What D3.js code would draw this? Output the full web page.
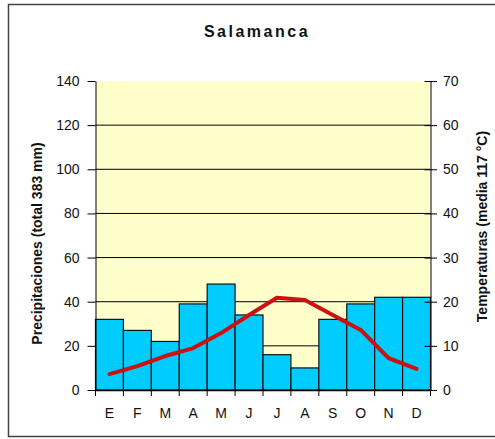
<!DOCTYPE html>
<html>
<head>
<meta charset="utf-8">
<script src="https://cdn.jsdelivr.net/npm/d3@7"></script>
<style>
  body { margin: 0; background: #fff; }
  svg { display: block; font-family: "Liberation Sans", Arial, sans-serif; }
  .axis text { font-size: 14px; fill: #111; }
  .axis path, .axis line { stroke: #000; }
</style>
</head>
<body>
<div id="chart"></div>
<script>
// climograma de Salamanca
var months = ['E', 'F', 'M', 'A', 'M', 'J', 'J', 'A', 'S', 'O', 'N', 'D'];
var precip = [32, 27, 22, 39, 48, 34, 16, 10, 32, 39, 42, 42];      // mm
var temps = [3.6, 5.4, 7.7, 9.5, 12.9, 17, 20.9, 20.4, 17, 13.6, 7.2, 4.8]; // °C
var precipTicks = [0, 20, 40, 60, 80, 100, 120, 140];
var tempTicks = [0, 10, 20, 30, 40, 50, 60, 70];
var title = 'Salamanca';
var leftLabel = 'Precipitaciones (total 383 mm)';
var rightLabel = 'Temperaturas (media 117 °C)';

var W = 495, H = 439;
var plot = { left: 95.5, right: 430.5, top: 81, bottom: 390 };

var svg = d3.select('#chart').append('svg').attr('width', W).attr('height', H);

// marco exterior
svg.append('rect').attr('x', 8.5).attr('y', 4.5).attr('width', W).attr('height', 432)
    .attr('fill', '#fff').attr('stroke', '#444').attr('stroke-width', 1.5);

// usar el indice para que los meses repetidos (M, J, A) tengan su propia banda
var idx = months.map((d, i) => i);
var x = d3.scaleBand().domain(idx).range([plot.left, plot.right]).padding(0);
var yL = d3.scaleLinear().domain([0, 140]).range([plot.bottom, plot.top]);
var yR = d3.scaleLinear().domain([0, 70]).range([plot.bottom, plot.top]);

// fondo amarillo del area de trazado
svg.append('rect')
    .attr('x', plot.left).attr('y', plot.top)
    .attr('width', plot.right - plot.left).attr('height', plot.bottom - plot.top)
    .attr('fill', '#ffffcc');

// lineas de division
svg.append('g').selectAll('line').data(precipTicks.slice(1, -1)).join('line')
    .attr('x1', plot.left).attr('x2', plot.right)
    .attr('y1', d => yL(d)).attr('y2', d => yL(d))
    .attr('stroke', '#000').attr('stroke-width', 1);

// barras de precipitacion
svg.append('g').selectAll('rect').data(precip).join('rect')
    .attr('x', (d, i) => x(i))
    .attr('y', d => yL(d))
    .attr('width', x.bandwidth())
    .attr('height', d => yL(0) - yL(d))
    .attr('fill', '#00ccff')
    .attr('stroke', '#111').attr('stroke-width', 1.2);

// eje izquierdo
var gL = svg.append('g').attr('class', 'axis').attr('transform', 'translate(' + plot.left + ',0)')
    .call(d3.axisLeft(yL).tickValues(precipTicks).tickSize(8).tickSizeOuter(0).tickPadding(8));
gL.selectAll('.tick line').attr('x2', -8);

// eje derecho
var gR = svg.append('g').attr('class', 'axis').attr('transform', 'translate(' + plot.right + ',0)')
    .call(d3.axisRight(yR).tickValues(tempTicks).tickSize(6.5).tickSizeOuter(0).tickPadding(6));
gR.selectAll('.tick line').attr('x1', -6);

// eje inferior: etiquetas centradas y marcas entre meses
var gB = svg.append('g').attr('class', 'axis').attr('transform', 'translate(0,' + plot.bottom + ')')
    .call(d3.axisBottom(x).tickSize(0).tickPadding(18).tickFormat(i => months[i]));
gB.select('.domain').attr('stroke-width', 1.5);
var bounds = idx.map(i => x(i)).concat([x.range()[1]]);
gB.selectAll('.sep').data(bounds).join('line').attr('class', 'sep')
    .attr('x1', d => d).attr('x2', d => d).attr('y1', -2).attr('y2', 6)
    .attr('stroke', '#000');

// linea de temperatura
var line = d3.line()
    .x((d, i) => x(i) + x.bandwidth() / 2)
    .y(d => yR(d));
svg.append('path').datum(temps)
    .attr('d', line)
    .attr('fill', 'none')
    .attr('stroke', '#cc1111')
    .attr('stroke-width', 4)
    .attr('stroke-linejoin', 'round')
    .attr('stroke-linecap', 'round');

// titulos
svg.append('text').text(title)
    .attr('x', 257).attr('y', 36.5)
    .attr('text-anchor', 'middle')
    .attr('font-size', 16).attr('font-weight', 'bold')
    .attr('letter-spacing', 2.5).attr('fill', '#111');

svg.append('text').text(leftLabel)
    .attr('transform', 'translate(41.5,243.5) rotate(-90)')
    .attr('text-anchor', 'middle')
    .attr('font-size', 14).attr('font-weight', 'bold').attr('fill', '#111');

svg.append('text').text(rightLabel)
    .attr('transform', 'translate(486.5,226.5) rotate(-90)')
    .attr('text-anchor', 'middle')
    .attr('font-size', 14).attr('font-weight', 'bold').attr('fill', '#111');
</script>
</body>
</html>
